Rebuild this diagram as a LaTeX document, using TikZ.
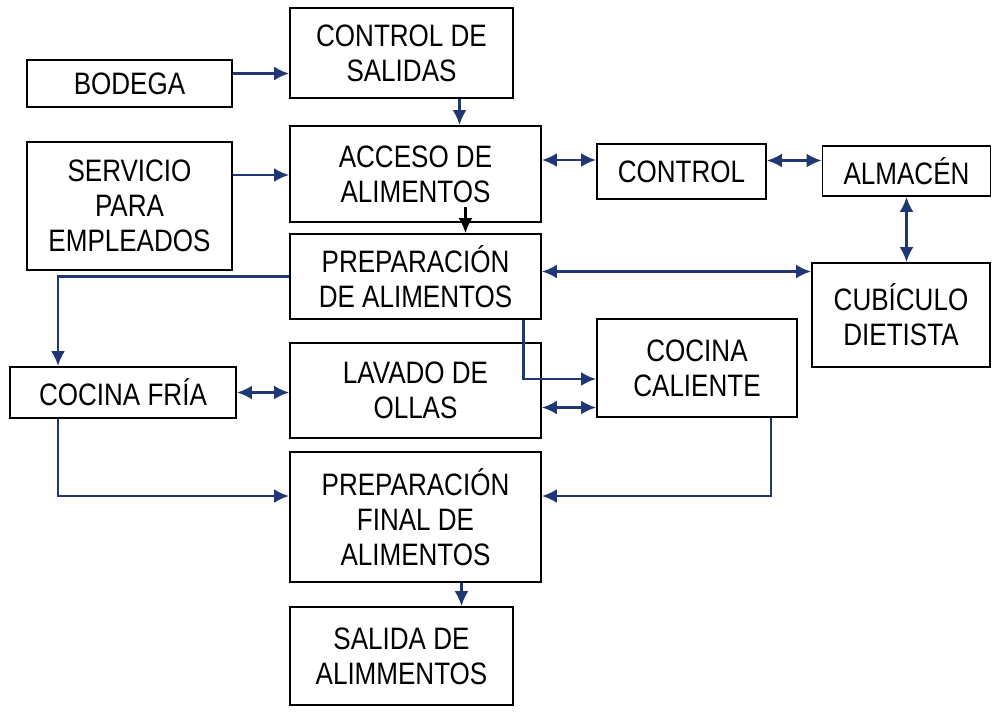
\documentclass[tikz,border=0pt]{standalone}
\usepackage{fontspec}
\setmainfont{Liberation Sans}[FakeStretch=0.84]
\usepackage{tikz}
\usetikzlibrary{arrows.meta,positioning,calc}
\definecolor{darkblue}{rgb}{0.12,0.22,0.45}

\begin{document}
\begin{tikzpicture}[x=1pt, y=-1pt,
    caja/.style={draw, line width=1.8pt, align=center, inner sep=0pt,
                 font=\fontsize{31}{35}\selectfont},
    flecha/.style={line width=2.6pt, darkblue},
    >={Latex[length=15pt,width=14pt]}]
            \useasboundingbox (0,0) rectangle (992,712);

            % --- Columna izquierda ---
            \node[caja, minimum width=205pt, minimum height=47pt] (bodega) at (129.5,83.5) {BODEGA};
            \node[caja, minimum width=205pt, minimum height=128pt] (servicio) at (129.5,206) {SERVICIO\\PARA\\EMPLEADOS};
            \node[caja, minimum width=226pt, minimum height=51pt] (fria) at (123,392.5) {COCINA FRÍA};

            % --- Columna central ---
            \node[caja, minimum width=223pt, minimum height=90pt] (salidas) at (401.5,53) {CONTROL DE\\SALIDAS};
            \node[caja, minimum width=251pt, minimum height=96pt] (acceso) at (415.5,174) {ACCESO DE\\ALIMENTOS};
            \node[caja, minimum width=251pt, minimum height=85pt] (prep) at (415.5,276.5) {PREPARACIÓN\\DE ALIMENTOS};
            \node[caja, minimum width=251pt, minimum height=95pt] (lavado) at (415.5,390.5) {LAVADO DE\\OLLAS};
            \node[caja, minimum width=251pt, minimum height=130pt] (final) at (415.5,517) {PREPARACIÓN\\FINAL DE\\ALIMENTOS};
            \node[caja, minimum width=223pt, minimum height=98pt] (salida) at (401.5,656) {SALIDA DE\\ALIMMENTOS};

            % --- Columna derecha ---
            \node[caja, minimum width=169pt, minimum height=55pt] (control) at (681.5,171.5) {CONTROL};
            \node[caja, minimum width=168pt, minimum height=50pt] (almacen) at (906.5,171) {ALMACÉN};
            \node[caja, minimum width=178pt, minimum height=104pt] (cubiculo) at (901,315) {CUBÍCULO\\DIETISTA};
            \node[caja, minimum width=200pt, minimum height=98pt] (caliente) at (697,368) {COCINA\\CALIENTE};

            % Entradas
            \draw[flecha,->] ([yshift=10pt]bodega.east) -- ([yshift=10pt]bodega.east -| salidas.west);
            \draw[flecha,->] ([xshift=58pt]salidas.south) -- ([xshift=58pt]salidas.south |- acceso.north);
            \draw[flecha,->] ([yshift=31pt]servicio.east) -- ([yshift=31pt]servicio.east -| acceso.west);
            \draw[line width=2.2pt,->] ([xshift=50pt,yshift=16pt]acceso.south) -- ([xshift=50pt]acceso.south |- prep.north);

            % Control y almacen
            \draw[flecha,<->] ([yshift=14pt]acceso.east) -- ([yshift=14pt]acceso.east -| control.west);
            \draw[flecha,<->] ([yshift=11pt]control.east) -- ([yshift=11pt]control.east -| almacen.west);
            \draw[flecha,<->] (almacen.south) -- (almacen.south |- cubiculo.north);
            \draw[flecha,<->] ([yshift=5pt]prep.east) -- ([yshift=5pt]prep.east -| cubiculo.west);

            % Cocinas
            \draw[flecha,->] (prep.west) -| ([xshift=-65pt]fria.north);
            \draw[flecha,->] ([xshift=108pt]prep.south) |- ([yshift=-11pt]caliente.west);
            \draw[flecha,<->] (fria.east) -- (fria.east -| lavado.west);
            \draw[flecha,<->] ([yshift=-17pt]lavado.east) -- ([yshift=-17pt]lavado.east -| caliente.west);

            % Salida
            \draw[flecha,->] ([xshift=-65pt]fria.south) |- ([yshift=21pt]final.west);
            \draw[flecha,->] ([xshift=74pt]caliente.south) |- ([yshift=21pt]final.east);
            \draw[flecha,->] ([xshift=46pt]final.south) -- ([xshift=46pt]final.south |- salida.north);
        \end{tikzpicture}
\end{document}
